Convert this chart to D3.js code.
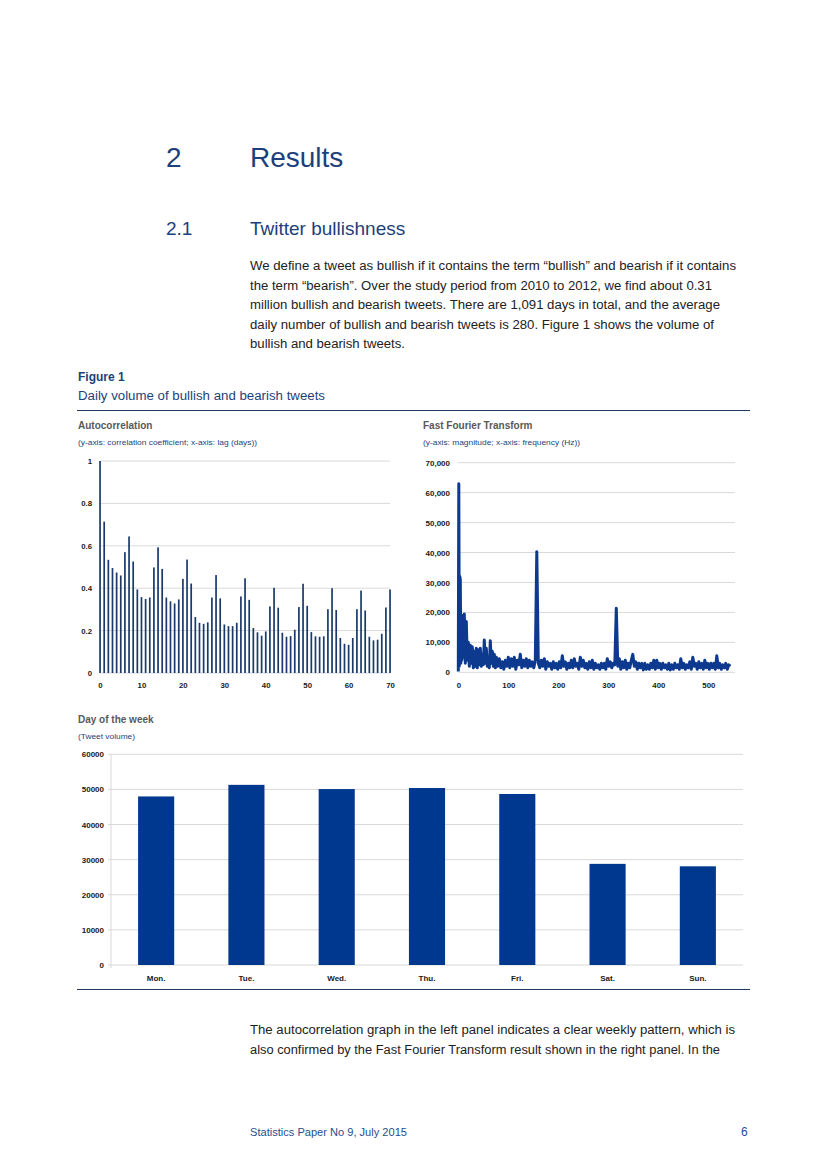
<!DOCTYPE html>
<html>
<head>
<meta charset="utf-8">
<script src="https://cdn.jsdelivr.net/npm/d3@7"></script>
<style>
body{margin:0;background:#fff;}
svg{display:block;}
text{font-family:"Liberation Sans",Arial,sans-serif;}
</style>
</head>
<body>
<div id="page"></div>
<script>
// ---- data ----
// autocorrelation coefficient, index = lag in days (0..70)
var acfValues = [1.0, 0.714, 0.534, 0.495, 0.474, 0.46, 0.57, 0.644, 0.526, 0.394,
    0.358, 0.349, 0.356, 0.498, 0.593, 0.491, 0.356, 0.338, 0.328, 0.347,
    0.444, 0.535, 0.422, 0.264, 0.237, 0.232, 0.239, 0.356, 0.462, 0.352,
    0.229, 0.221, 0.221, 0.237, 0.361, 0.447, 0.345, 0.212, 0.192, 0.176,
    0.196, 0.314, 0.402, 0.308, 0.19, 0.171, 0.174, 0.204, 0.311, 0.421,
    0.317, 0.193, 0.173, 0.171, 0.173, 0.301, 0.40, 0.297, 0.165, 0.138,
    0.133, 0.165, 0.301, 0.389, 0.295, 0.171, 0.154, 0.157, 0.185, 0.309, 0.394];
var acfTicksX = [0, 10, 20, 30, 40, 50, 60, 70];
var acfTicksY = [0, 0.2, 0.4, 0.6, 0.8, 1];

// FFT magnitude (thousands): low-frequency part, irregular spacing
var fftHeadFreq = [0, 1, 2, 3, 4, 5, 6, 7, 8, 10, 12, 14, 16, 18, 20, 22, 24, 26, 28, 30,
    32, 34, 36, 38, 40, 42, 44, 46, 48, 50, 52, 54, 56, 58, 60, 62, 64, 66, 68, 70, 72, 74, 76];
var fftHeadMag = [0.3, 63, 2, 32, 31, 3, 15, 4, 19, 5, 19.5, 3, 17, 4, 10, 2, 9, 3, 8.5, 1.5,
    7, 2, 8, 1.5, 7.5, 2.5, 8, 2, 6, 2.5, 10.8, 3, 8, 2, 5, 1.5, 10.5, 3, 7, 2, 6, 1.5, 5];
// remaining part, sampled every 3 Hz from 79 Hz
var fftTailStart = 79, fftTailStep = 3;
var fftTailMag = [2, 4.5, 1.5, 3.5, 1, 4, 2, 5, 1.5, 4.5, 2, 5, 1, 4, 2.5, 6, 1.5, 4, 2, 4.5,
    1.5, 4, 2, 3.5, 1.5, 4, 40.3, 3, 1.5, 4, 2, 4.5, 1, 3.5, 2, 3, 1, 3.5, 1.5, 3,
    1, 3.5, 1.5, 5.5, 2, 3.5, 1, 3, 1.5, 4, 1.5, 4.5, 2, 3, 1, 5, 2, 4, 1.5, 3,
    1, 3.5, 1.5, 4, 1, 3, 1.5, 2.5, 1, 3, 1.5, 3, 1, 4.5, 2, 3.5, 1.5, 3, 2.5, 21.4,
    2, 4.5, 1, 3.5, 1.5, 4, 1, 3, 1.5, 4, 6, 2, 3.5, 1, 3, 1.5, 3, 0.8, 3, 1,
    2.5, 1, 3, 1.5, 4, 1, 4, 1.5, 3, 1, 3, 1.5, 2.5, 1, 3, 0.8, 2.5, 1, 3, 1.5,
    2.5, 1, 4.5, 1.5, 3, 1, 2.5, 1.5, 3.5, 1, 5, 2, 3, 1, 3.5, 1.5, 3, 1, 4, 1.5,
    3, 1, 3, 1.5, 3, 1, 5.5, 1.5, 3, 1, 2.5, 1.5, 3, 1, 2.5, 2];
var fftTicksX = [0, 100, 200, 300, 400, 500];
var fftTicksY = [0, 10000, 20000, 30000, 40000, 50000, 60000, 70000];

// day of the week tweet volume
var weekDays = ["Mon.", "Tue.", "Wed.", "Thu.", "Fri.", "Sat.", "Sun."];
var weekVolume = [48000, 51300, 50100, 50400, 48700, 28800, 28100];
var weekTicksY = [0, 10000, 20000, 30000, 40000, 50000, 60000];

var introLines = [
    "We define a tweet as bullish if it contains the term \u201cbullish\u201d and bearish if it contains",
    "the term \u201cbearish\u201d. Over the study period from 2010 to 2012, we find about 0.31",
    "million bullish and bearish tweets. There are 1,091 days in total, and the average",
    "daily number of bullish and bearish tweets is 280. Figure 1 shows the volume of",
    "bullish and bearish tweets."
];
var introWidths = [486, 462, 470, 464, 155];
var outroLines = [
    "The autocorrelation graph in the left panel indicates a clear weekly pattern, which is",
    "also confirmed by the Fast Fourier Transform result shown in the right panel. In the"
];
var outroWidths = [485, 470];

// ---- drawing ----
var navy = "#1d3f7a",
    gridCol = "#d9d9d9",
    tickCol = "#1a1a1a";

var svg = d3.select("#page").append("svg")
    .attr("width", 827).attr("height", 1170);

function addText(x, y, str, size, fill, weight, len){
    var t = svg.append("text")
        .attr("x", x).attr("y", y)
        .attr("font-size", size)
        .attr("fill", fill)
        .attr("font-weight", weight || "normal")
        .text(str);
    if(len){
        t.attr("textLength", len).attr("lengthAdjust", "spacingAndGlyphs");
    }
    return t;
}

function hRule(y){
    svg.append("line")
        .attr("x1", 77).attr("x2", 750)
        .attr("y1", y).attr("y2", y)
        .attr("stroke", "#1f3a66").attr("stroke-width", 1.2);
}

// headings and body text
addText(166, 167, "2", 28, navy);
addText(250, 167, "Results", 28, navy);
addText(166, 235, "2.1", 19, navy);
addText(250, 235, "Twitter bullishness", 19, navy);
introLines.forEach(function(line, i){
    addText(250, 270 + i * 19.6, line, 12.3, "#222", "normal", introWidths[i]);
});

addText(78, 381, "Figure 1", 12, navy, "bold");
addText(78, 400, "Daily volume of bullish and bearish tweets", 12, navy, "normal", 247);
hRule(410.5);

// panel titles
function panelTitle(x, y, title, sub, subLen){
    addText(x, y, title, 10, "#595959", "bold");
    addText(x, y + 16, sub, 7.2, navy, "normal", subLen);
}
panelTitle(78, 429, "Autocorrelation", "(y-axis: correlation coefficient; x-axis: lag (days))", 179);
panelTitle(423, 429, "Fast Fourier Transform", "(y-axis: magnitude; x-axis: frequency (Hz))", 157);
panelTitle(78, 723, "Day of the week", "(Tweet volume)", 57);

function drawGrid(g, ticks, yScale, x1, x2){
    g.selectAll("line.grid").data(ticks).enter().append("line")
        .attr("class", "grid")
        .attr("x1", x1).attr("x2", x2)
        .attr("y1", function(d){ return yScale(d); })
        .attr("y2", function(d){ return yScale(d); })
        .attr("stroke", gridCol).attr("stroke-width", 1);
}

function styleAxis(g, size){
    g.select(".domain").remove();
    g.selectAll("text")
        .attr("font-family", "'Liberation Sans', Arial, sans-serif")
        .attr("font-weight", "bold")
        .attr("font-size", size)
        .attr("fill", tickCol);
}

// autocorrelation panel
function drawAutocorrelation(){
    var x = d3.scaleLinear().domain([0, 70]).range([100, 390]),
        y = d3.scaleLinear().domain([0, 1]).range([673, 461]),
        g = svg.append("g");

    drawGrid(g, acfTicksY, y, 100, 390);

    g.selectAll("rect.bar").data(acfValues).enter().append("rect")
        .attr("class", "bar")
        .attr("x", function(d, i){ return x(i) - 0.8; })
        .attr("width", 1.7)
        .attr("y", function(d){ return y(d); })
        .attr("height", function(d){ return y(0) - y(d); })
        .attr("fill", "#1b3a6b");

    var ya = g.append("g").attr("transform", "translate(100,0)")
        .call(d3.axisLeft(y).tickValues(acfTicksY).tickSize(0).tickPadding(8)
            .tickFormat(function(d){ return d === 0 || d === 1 ? String(d) : d3.format(".1f")(d); }));
    styleAxis(ya, 7.8);

    var xa = g.append("g").attr("transform", "translate(0,673)")
        .call(d3.axisBottom(x).tickValues(acfTicksX).tickSize(0).tickPadding(9));
    styleAxis(xa, 7.8);
}

// FFT panel
function drawFFT(){
    var pts = [];
    fftHeadFreq.forEach(function(f, i){ pts.push([f, fftHeadMag[i] * 1000]); });
    fftTailMag.forEach(function(m, i){ pts.push([fftTailStart + i * fftTailStep, m * 1000]); });

    var x = d3.scaleLinear().domain([0, 500]).range([458.3, 708.3]),
        y = d3.scaleLinear().domain([0, 70000]).range([672.3, 462.7]),
        g = svg.append("g");

    drawGrid(g, fftTicksY, y, 458, 735);

    g.append("path")
        .datum(pts)
        .attr("fill", "none")
        .attr("stroke", "#0d3a8e")
        .attr("stroke-width", 3)
        .attr("stroke-linejoin", "round")
        .attr("d", d3.line()
            .x(function(d){ return x(d[0]); })
            .y(function(d){ return y(d[1]); }));

    var ya = g.append("g").attr("transform", "translate(458,0)")
        .call(d3.axisLeft(y).tickValues(fftTicksY).tickSize(0).tickPadding(8)
            .tickFormat(d3.format(",")));
    styleAxis(ya, 8);

    var xa = g.append("g").attr("transform", "translate(0,673)")
        .call(d3.axisBottom(x).tickValues(fftTicksX).tickSize(0).tickPadding(9));
    styleAxis(xa, 7.8);
}

// day of the week panel
function drawWeek(){
    var x = d3.scaleBand().domain(weekDays).range([111, 743])
            .paddingInner(0.6).paddingOuter(0.3),
        y = d3.scaleLinear().domain([0, 60000]).range([965, 754.3]),
        g = svg.append("g");

    drawGrid(g, weekTicksY, y, 108, 743);
    g.append("line")
        .attr("x1", 111).attr("x2", 111).attr("y1", 754).attr("y2", 968)
        .attr("stroke", gridCol);

    g.selectAll("rect.bar").data(weekVolume).enter().append("rect")
        .attr("class", "bar")
        .attr("x", function(d, i){ return x(weekDays[i]); })
        .attr("width", x.bandwidth())
        .attr("y", function(d){ return y(d); })
        .attr("height", function(d){ return y(0) - y(d); })
        .attr("fill", "#00388f");

    var ya = g.append("g").attr("transform", "translate(106,0)")
        .call(d3.axisLeft(y).tickValues(weekTicksY).tickSize(0).tickPadding(2)
            .tickFormat(d3.format("d")));
    styleAxis(ya, 8);

    var xa = g.append("g").attr("transform", "translate(0,965)")
        .call(d3.axisBottom(x).tickSize(0).tickPadding(10));
    styleAxis(xa, 8);
}

drawAutocorrelation();
drawFFT();
drawWeek();

hRule(989.5);

outroLines.forEach(function(line, i){
    addText(250, 1034 + i * 19.6, line, 12.3, "#222", "normal", outroWidths[i]);
});

addText(250, 1136, "Statistics Paper No 9, July 2015", 10.5, "#1f4e8c", "normal", 157);
addText(741, 1136, "6", 12, "#1f4e8c");
</script>
</body>
</html>
